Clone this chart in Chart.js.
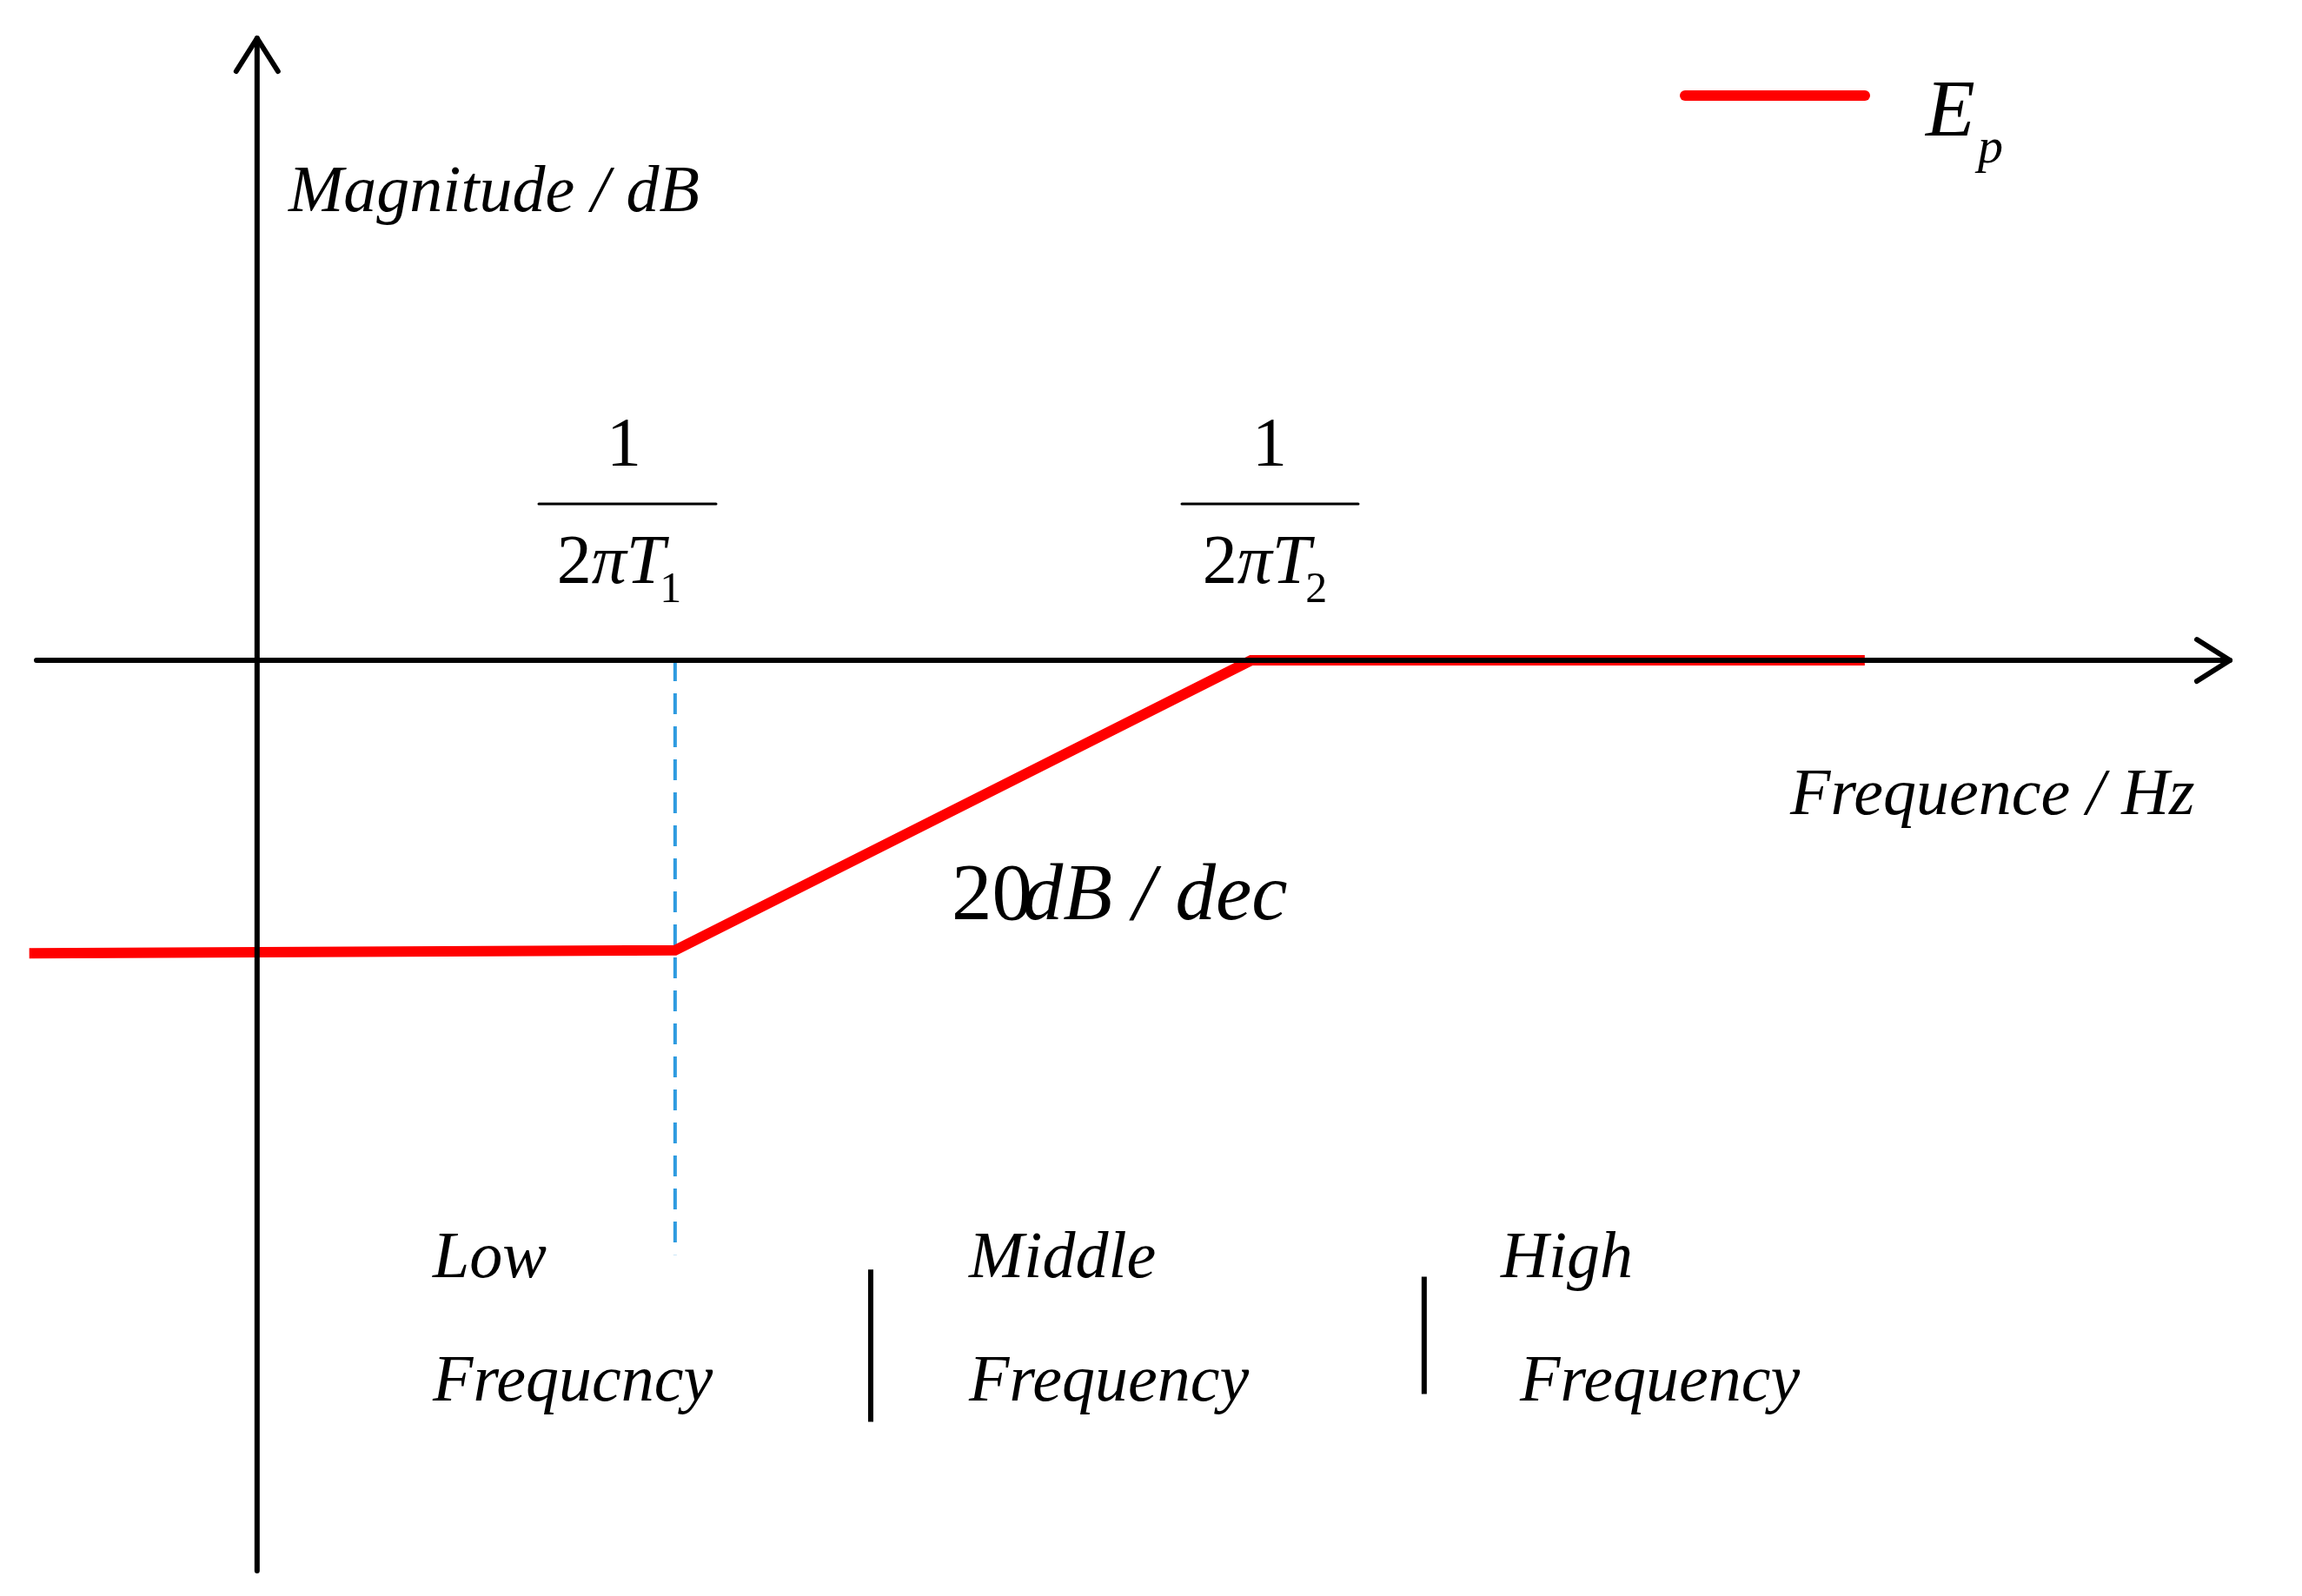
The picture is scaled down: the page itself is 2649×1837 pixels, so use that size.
<!DOCTYPE html>
<html>
<head>
<meta charset="utf-8">
<script src="https://cdn.jsdelivr.net/npm/chart.js@4"></script>
<style>
  body { margin: 0; background: #fff; }
  canvas { display: block; }
</style>
</head>
<body>
<canvas id="bode" width="2649" height="1837"></canvas>
<script>
// Asymptotic magnitude curve of Ep (x: normalised log-frequency, y: dB)
const curveX = [-0.545, 1, 2.378, 3.846];
const curveY = [-20.0, -19.8, 0, 0];
// Corner frequency marker (dashed)
const cornerX = [1, 1];
const cornerY = [0, -40.6];
// Band separators
const sep1X = [1.468, 1.468];
const sep1Y = [-41.6, -52.0];
const sep2X = [2.792, 2.792];
const sep2Y = [-42.1, -50.1];

const serif = '"Liberation Serif", "DejaVu Serif", serif';

function pts(xs, ys) { return xs.map((x, i) => ({ x: x, y: ys[i] })); }

const decorPlugin = {
    id: 'decor',
    afterDatasetsDraw(chart) {
        const c = chart.ctx;
        const xs = chart.scales.x, ys = chart.scales.y;
        const ox = xs.getPixelForValue(0), oy = ys.getPixelForValue(0);
        c.save();
        c.strokeStyle = '#000';
        c.lineWidth = 6;
        c.lineCap = 'round';
        c.lineJoin = 'round';
        // axes
        c.beginPath();
        c.moveTo(ox, 1808); c.lineTo(ox, 44);
        c.moveTo(42, oy); c.lineTo(2566, oy);
        c.stroke();
        // arrow heads
        c.beginPath();
        c.moveTo(ox - 24, 82); c.lineTo(ox, 44); c.lineTo(ox + 24, 82);
        c.moveTo(2528, oy - 24); c.lineTo(2566, oy); c.lineTo(2528, oy + 24);
        c.stroke();

        c.fillStyle = '#000';
        c.textBaseline = 'middle';
        c.font = 'italic 76px ' + serif;
        c.textAlign = 'left';
        c.fillText('Magnitude / dB', 332, 223);
        c.fillText('Frequence / Hz', 2060, 917);

        c.font = '93px ' + serif;
        c.fillText('20', 1095, 1034);
        c.font = 'italic 93px ' + serif;
        c.fillText('dB / dec', 1095 + c.measureText('20').width * 0.88, 1034);

        // fractions
        function frac(cx, x0, x1, sub) {
            c.textAlign = 'center';
            c.font = '80px ' + serif;
            c.fillText('1', cx, 515);
            c.lineWidth = 3;
            c.beginPath(); c.moveTo(x0, 580); c.lineTo(x1, 580); c.stroke();
            c.font = 'italic 80px ' + serif;
            c.textAlign = 'left';
            const w2 = c.measureText('2πT').width;
            let sx = cx - (w2 + 30) / 2;
            c.font = '80px ' + serif;
            c.fillText('2', sx, 650);
            const w = c.measureText('2').width;
            c.font = 'italic 80px ' + serif;
            c.fillText('πT', sx + w, 650);
            const w3 = c.measureText('πT').width;
            c.font = '50px ' + serif;
            c.fillText(sub, sx + w + w3 - 6, 680);
        }
        frac(718, 620, 824, '1');
        frac(1461, 1360, 1563, '2');

        // band labels
        c.textAlign = 'left';
        c.font = 'italic 76px ' + serif;
        c.fillText('Low', 498, 1450);
        c.fillText('Frequcncy', 498, 1592);
        c.fillText('Middle', 1115, 1450);
        c.fillText('Frequency', 1115, 1592);
        c.fillText('High', 1727, 1450);
        c.fillText('Frequency', 1749, 1592);

        // legend
        c.strokeStyle = '#ff0000';
        c.lineWidth = 12;
        c.beginPath(); c.moveTo(1939, 110); c.lineTo(2146, 110); c.stroke();
        c.font = 'italic 93px ' + serif;
        c.fillText('E', 2216, 132);
        c.font = 'italic 58px ' + serif;
        c.fillText('p', 2276, 172);
        c.restore();
    }
};

new Chart(document.getElementById('bode'), {
    type: 'scatter',
    data: {
        datasets: [
            { label: 'Ep', data: pts(curveX, curveY), showLine: true, borderColor: '#ff0000', borderWidth: 12, pointRadius: 0, borderCapStyle: 'butt' },
            { label: 'corner', data: pts(cornerX, cornerY), showLine: true, borderColor: '#2e9be0', borderWidth: 4, borderDash: [24, 14], pointRadius: 0 },
            { label: 'sep1', data: pts(sep1X, sep1Y), showLine: true, borderColor: '#000', borderWidth: 6, pointRadius: 0 },
            { label: 'sep2', data: pts(sep2X, sep2Y), showLine: true, borderColor: '#000', borderWidth: 6, pointRadius: 0 }
        ]
    },
    options: {
        responsive: false,
        animation: false,
        devicePixelRatio: 1,
        layout: { padding: 0 },
        scales: {
            x: { type: 'linear', min: -0.615, max: 4.892, display: false },
            y: { type: 'linear', min: -63.9, max: 45.1, display: false }
        },
        plugins: { legend: { display: false }, tooltip: { enabled: false } }
    },
    plugins: [decorPlugin]
});
</script>
</body>
</html>
